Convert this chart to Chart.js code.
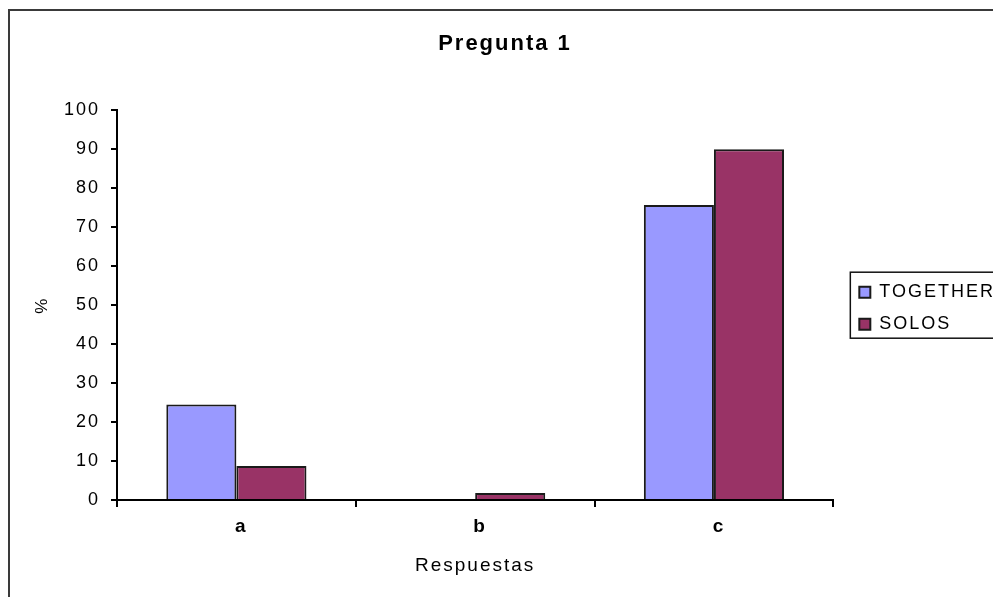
<!DOCTYPE html>
<html>
<head>
<meta charset="utf-8">
<script src="https://cdn.jsdelivr.net/npm/chart.js@4.4.1/dist/chart.umd.min.js"></script>
<style>
html, body { margin: 0; padding: 0; background: #fff; overflow: hidden; }
#frame { position: absolute; left: 8px; top: 9px; width: 1100px; height: 700px; border: 2px solid #3a3a3a; }
canvas { position: absolute; left: 0; top: 0; }
</style>
</head>
<body>
<div id="frame"></div>
<canvas id="chart" width="993" height="597"></canvas>
<script>
const categories = ['a', 'b', 'c']
const together = [24.5, 0, 75.7]
const solos = [8.7, 1.8, 90]
const seriesNames = ['TOGETHER', 'SOLOS']
const yMin = 0, yMax = 100, yStep = 10

const font = 'Arial, "Liberation Sans", sans-serif'

// Excel-ish spaced text, legend nudge and legend frame
const excelLook = {
    id: 'excelLook',
    beforeUpdate(chart) { chart.ctx.letterSpacing = '2px' },
    beforeLayout(chart) { chart.ctx.letterSpacing = '2px' },
    afterLayout(chart) {
        const lg = chart.legend
        lg.left += 12
        lg.right += 12
        lg.top += 3
        lg.bottom += 3
    },
    beforeDraw(chart) { chart.ctx.letterSpacing = '2px' },
    afterDraw(chart) {
        const ctx = chart.ctx
        const hb = chart.legend.legendHitBoxes
        if (!hb || !hb.length) return
        const last = hb[hb.length - 1]
        const l = hb[0].left - 9
        const t = hb[0].top - 11
        const b = last.top + last.height + 5
        ctx.save()
        ctx.strokeStyle = '#111'
        ctx.lineWidth = 1.5
        ctx.strokeRect(l, t, chart.width - l + 10, b - t)
        ctx.restore()
    }
}

new Chart(document.getElementById('chart'), {
    type: 'bar',
    data: {
        labels: categories,
        datasets: [
            {
                label: seriesNames[0],
                data: together,
                backgroundColor: '#9999FF',
                borderColor: '#1a1a1a',
                borderWidth: 2
            },
            {
                label: seriesNames[1],
                data: solos,
                backgroundColor: '#993366',
                borderColor: '#1a1a1a',
                borderWidth: 2
            }
        ]
    },
    options: {
        responsive: false,
        animation: false,
        categoryPercentage: 0.587,
        barPercentage: 1,
        layout: { padding: { left: 17, right: 0, top: 0, bottom: 0 } },
        plugins: {
            title: {
                display: true,
                text: 'Pregunta 1',
                color: '#000',
                font: { family: font, size: 22, weight: 'bold' },
                padding: { top: 31, bottom: 53 }
            },
            legend: {
                position: 'right',
                fullSize: false,
                labels: {
                    color: '#000',
                    font: { family: font, size: 18 },
                    boxWidth: 11,
                    boxHeight: 11,
                    padding: 14
                }
            },
            tooltip: { enabled: false }
        },
        scales: {
            x: {
                afterFit(scale) { scale.height = 97 },
                grid: { drawOnChartArea: false, color: '#000', lineWidth: 2, tickLength: 7 },
                border: { color: '#000', width: 2 },
                ticks: { color: '#000', padding: 8, labelOffset: 5, font: { family: font, size: 19, weight: 'bold' } },
                title: {
                    display: true,
                    text: 'Respuestas',
                    color: '#000',
                    font: { family: font, size: 19 },
                    padding: { top: 0, bottom: 20 }
                }
            },
            y: {
                min: yMin,
                max: yMax,
                afterFit(scale) { scale.width = 100 },
                grid: { drawOnChartArea: false, color: '#000', lineWidth: 2, tickLength: 6 },
                border: { color: '#000', width: 2 },
                ticks: { stepSize: yStep, color: '#000', padding: 11, font: { family: font, size: 18 } },
                title: {
                    display: true,
                    text: '%',
                    color: '#000',
                    font: { family: font, size: 17 },
                    padding: { top: 15, bottom: 0 }
                }
            }
        }
    },
    plugins: [excelLook]
})
</script>
</body>
</html>
